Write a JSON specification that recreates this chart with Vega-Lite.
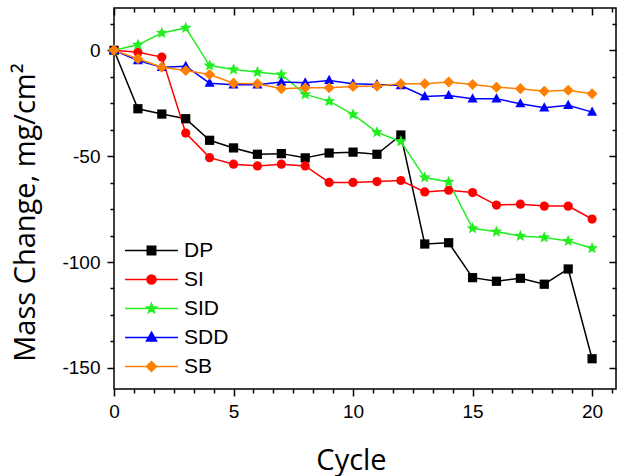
{
  "$schema": "https://vega.github.io/schema/vega-lite/v6.json",
  "autosize": "none",
  "width": 502,
  "height": 381,
  "padding": {"left": 114, "top": 8, "right": 5, "bottom": 87},
  "background": "white",
  "data": {
    "values": [
      {"cycle": 0, "series": "DP", "mass": 0}, {"cycle": 1, "series": "DP", "mass": -27.6}, {"cycle": 2, "series": "DP", "mass": -30.1},
      {"cycle": 3, "series": "DP", "mass": -32.3}, {"cycle": 4, "series": "DP", "mass": -42.5}, {"cycle": 5, "series": "DP", "mass": -46.1},
      {"cycle": 6, "series": "DP", "mass": -49.1}, {"cycle": 7, "series": "DP", "mass": -48.8}, {"cycle": 8, "series": "DP", "mass": -50.8},
      {"cycle": 9, "series": "DP", "mass": -48.5}, {"cycle": 10, "series": "DP", "mass": -48.1}, {"cycle": 11, "series": "DP", "mass": -49.1},
      {"cycle": 12, "series": "DP", "mass": -40.0}, {"cycle": 13, "series": "DP", "mass": -91.5}, {"cycle": 14, "series": "DP", "mass": -90.9},
      {"cycle": 15, "series": "DP", "mass": -107.4}, {"cycle": 16, "series": "DP", "mass": -109.1}, {"cycle": 17, "series": "DP", "mass": -107.7},
      {"cycle": 18, "series": "DP", "mass": -110.5}, {"cycle": 19, "series": "DP", "mass": -103.3}, {"cycle": 20, "series": "DP", "mass": -145.7},
      {"cycle": 0, "series": "SI", "mass": 0}, {"cycle": 1, "series": "SI", "mass": -0.9}, {"cycle": 2, "series": "SI", "mass": -3.2},
      {"cycle": 3, "series": "SI", "mass": -39.1}, {"cycle": 4, "series": "SI", "mass": -50.7}, {"cycle": 5, "series": "SI", "mass": -53.8},
      {"cycle": 6, "series": "SI", "mass": -54.6}, {"cycle": 7, "series": "SI", "mass": -53.8}, {"cycle": 8, "series": "SI", "mass": -54.6},
      {"cycle": 9, "series": "SI", "mass": -62.4}, {"cycle": 10, "series": "SI", "mass": -62.4}, {"cycle": 11, "series": "SI", "mass": -62.0},
      {"cycle": 12, "series": "SI", "mass": -61.5}, {"cycle": 13, "series": "SI", "mass": -66.9}, {"cycle": 14, "series": "SI", "mass": -66.1},
      {"cycle": 15, "series": "SI", "mass": -67.2}, {"cycle": 16, "series": "SI", "mass": -73.1}, {"cycle": 17, "series": "SI", "mass": -72.7},
      {"cycle": 18, "series": "SI", "mass": -73.6}, {"cycle": 19, "series": "SI", "mass": -73.6}, {"cycle": 20, "series": "SI", "mass": -79.7},
      {"cycle": 0, "series": "SID", "mass": 0}, {"cycle": 1, "series": "SID", "mass": 2.6}, {"cycle": 2, "series": "SID", "mass": 8.2},
      {"cycle": 3, "series": "SID", "mass": 10.6}, {"cycle": 4, "series": "SID", "mass": -7.2}, {"cycle": 5, "series": "SID", "mass": -9.0},
      {"cycle": 6, "series": "SID", "mass": -10.3}, {"cycle": 7, "series": "SID", "mass": -11.4}, {"cycle": 8, "series": "SID", "mass": -20.8},
      {"cycle": 9, "series": "SID", "mass": -24.0}, {"cycle": 10, "series": "SID", "mass": -30.3}, {"cycle": 11, "series": "SID", "mass": -38.7},
      {"cycle": 12, "series": "SID", "mass": -43.1}, {"cycle": 13, "series": "SID", "mass": -60.1}, {"cycle": 14, "series": "SID", "mass": -62.2},
      {"cycle": 15, "series": "SID", "mass": -84.1}, {"cycle": 16, "series": "SID", "mass": -85.7}, {"cycle": 17, "series": "SID", "mass": -87.7},
      {"cycle": 18, "series": "SID", "mass": -88.4}, {"cycle": 19, "series": "SID", "mass": -90.1}, {"cycle": 20, "series": "SID", "mass": -93.5},
      {"cycle": 0, "series": "SDD", "mass": 0}, {"cycle": 1, "series": "SDD", "mass": -4.8}, {"cycle": 2, "series": "SDD", "mass": -8.0},
      {"cycle": 3, "series": "SDD", "mass": -7.5}, {"cycle": 4, "series": "SDD", "mass": -15.5}, {"cycle": 5, "series": "SDD", "mass": -16.3},
      {"cycle": 6, "series": "SDD", "mass": -16.3}, {"cycle": 7, "series": "SDD", "mass": -15.0}, {"cycle": 8, "series": "SDD", "mass": -15.3},
      {"cycle": 9, "series": "SDD", "mass": -14.2}, {"cycle": 10, "series": "SDD", "mass": -15.8}, {"cycle": 11, "series": "SDD", "mass": -16.1},
      {"cycle": 12, "series": "SDD", "mass": -16.6}, {"cycle": 13, "series": "SDD", "mass": -21.8}, {"cycle": 14, "series": "SDD", "mass": -21.3},
      {"cycle": 15, "series": "SDD", "mass": -22.9}, {"cycle": 16, "series": "SDD", "mass": -22.9}, {"cycle": 17, "series": "SDD", "mass": -25.2},
      {"cycle": 18, "series": "SDD", "mass": -27.1}, {"cycle": 19, "series": "SDD", "mass": -26.0}, {"cycle": 20, "series": "SDD", "mass": -29.2},
      {"cycle": 0, "series": "SB", "mass": 0}, {"cycle": 1, "series": "SB", "mass": -4.0}, {"cycle": 2, "series": "SB", "mass": -8.0},
      {"cycle": 3, "series": "SB", "mass": -9.5}, {"cycle": 4, "series": "SB", "mass": -11.4}, {"cycle": 5, "series": "SB", "mass": -15.5},
      {"cycle": 6, "series": "SB", "mass": -15.8}, {"cycle": 7, "series": "SB", "mass": -18.1}, {"cycle": 8, "series": "SB", "mass": -17.7},
      {"cycle": 9, "series": "SB", "mass": -17.7}, {"cycle": 10, "series": "SB", "mass": -17.1}, {"cycle": 11, "series": "SB", "mass": -16.9},
      {"cycle": 12, "series": "SB", "mass": -15.8}, {"cycle": 13, "series": "SB", "mass": -15.8}, {"cycle": 14, "series": "SB", "mass": -15.0},
      {"cycle": 15, "series": "SB", "mass": -16.1}, {"cycle": 16, "series": "SB", "mass": -17.4}, {"cycle": 17, "series": "SB", "mass": -18.1},
      {"cycle": 18, "series": "SB", "mass": -19.3}, {"cycle": 19, "series": "SB", "mass": -18.9}, {"cycle": 20, "series": "SB", "mass": -20.5}
    ]
  },
  "layer": [
    {
      "mark": {"type": "line", "strokeWidth": 1.5},
      "encoding": {
        "x": {
          "field": "cycle", "type": "quantitative",
          "scale": {"domain": [0, 21], "nice": false, "zero": false},
          "axis": {
            "orient": "bottom",
            "title": "Cycle",
            "values": [0, 5, 10, 15, 20],
            "format": "d",
            "ticks": true, "tickSize": 7, "tickColor": "#000000", "tickWidth": 1.5, "tickOpacity": 1,
            "labelPadding": 6,
            "titleX": 237,
            "titleY": 80,
            "titleBaseline": "alphabetic"
          }
        },
        "y": {
          "field": "mass", "type": "quantitative",
          "scale": {"domain": [-160, 20], "nice": false, "zero": false},
          "axis": {
            "orient": "left",
            "title": "Mass Change, mg/cm²",
            "values": [-150, -100, -50, 0],
            "labelExpr": "datum.value < 0 ? '-' + abs(datum.value) : '' + datum.value",
            "ticks": true, "tickSize": 7, "tickColor": "#000000", "tickWidth": 1.5, "tickOpacity": 1,
            "labelPadding": 7,
            "titleX": -80,
            "titleY": 204,
            "titleAngle": 270,
            "titleBaseline": "alphabetic"
          }
        },
        "color": {
          "field": "series", "type": "nominal",
          "scale": {"domain": ["DP", "SI", "SID", "SDD", "SB"], "range": ["#000000", "#ff0000", "#22ee22", "#0000ff", "#ff8000"]},
          "legend": {
            "title": null,
            "orient": "none",
            "legendX": 26,
            "legendY": 231,
            "padding": 0,
            "symbolSize": 441,
            "symbolStrokeWidth": 1.5,
            "labelFont": "Liberation Sans",
            "labelFontSize": 21,
            "labelColor": "#000000",
            "labelOffset": 21,
            "rowPadding": 7,
            "encode": {
              "symbols": {
                "update": {
                  "shape": {"signal": "datum.value === 'DP' ? 'M-2.52,0H2.52M-0.4,-0.4H0.4V0.4H-0.4Z' : datum.value === 'SI' ? 'M-2.52,0H2.52M-0.43,0A0.43,0.43,0,1,1,0.43,0A0.43,0.43,0,1,1,-0.43,0Z' : datum.value === 'SID' ? 'M-2.52,0H2.52M0,-0.48L0.119,-0.164L0.457,-0.149L0.192,0.063L0.283,0.389L0,0.202L-0.283,0.389L-0.192,0.063L-0.457,-0.149L-0.119,-0.164Z' : datum.value === 'SDD' ? 'M-2.52,0H2.52M0,-0.5L0.48,0.33L-0.48,0.33Z' : 'M-2.52,0H2.52M0,-0.48L0.48,0L0,0.48L-0.48,0Z'"},
                  "fill": {"scale": "color", "field": "value"},
                  "stroke": {"scale": "color", "field": "value"},
                  "opacity": {"value": 1},
                  "fillOpacity": {"value": 1},
                  "strokeOpacity": {"value": 1}
                }
              }
            }
          }
        }
      }
    },
    {
      "mark": {"type": "point", "filled": true, "opacity": 1, "size": 85},
      "encoding": {
        "x": {
          "field": "cycle", "type": "quantitative",
          "scale": {"domain": [0, 21], "nice": false, "zero": false},
          "axis": {
            "orient": "bottom", "title": null, "labels": false,
            "values": [0.833333, 1.666667, 2.5, 3.333333, 4.166667, 5.833333, 6.666667, 7.5, 8.333333, 9.166667, 10.833333, 11.666667, 12.5, 13.333333, 14.166667, 15.833333, 16.666667, 17.5, 18.333333, 19.166667, 20.833333],
            "ticks": true, "tickSize": 4, "tickColor": "#000000", "tickWidth": 1.5, "tickOpacity": 1
          }
        },
        "y": {
          "field": "mass", "type": "quantitative",
          "scale": {"domain": [-160, 20], "nice": false, "zero": false},
          "axis": {
            "orient": "left", "title": null, "labels": false,
            "values": [-137.5, -125, -112.5, -87.5, -75, -62.5, -37.5, -25, -12.5, 12.5],
            "ticks": true, "tickSize": 4, "tickColor": "#000000", "tickWidth": 1.5, "tickOpacity": 1
          }
        },
        "color": {
          "field": "series", "type": "nominal",
          "scale": {"domain": ["DP", "SI", "SID", "SDD", "SB"], "range": ["#000000", "#ff0000", "#22ee22", "#0000ff", "#ff8000"]},
          "legend": null
        },
        "shape": {
          "field": "series", "type": "nominal",
          "scale": {"domain": ["DP", "SI", "SID", "SDD", "SB"], "range": ["square", "circle", "M0,-1.35L0.353,-0.485L1.284,-0.417L0.571,0.185L0.794,1.092L0,0.6L-0.794,1.092L-0.571,0.185L-1.284,-0.417L-0.353,-0.485Z", "M0,-1.2L1.1,0.8L-1.1,0.8Z", "M0,-1.2L1.2,0L0,1.2L-1.2,0Z"]},
          "legend": null
        }
      }
    },
    {
      "mark": {"type": "point", "opacity": 0},
      "encoding": {
        "x": {
          "field": "cycle", "type": "quantitative",
          "scale": {"domain": [0, 21], "nice": false, "zero": false},
          "axis": {"orient": "top", "title": null, "labels": false, "values": [0, 5, 10, 15, 20], "ticks": true, "tickSize": -7, "tickColor": "#000000", "tickWidth": 1.5, "tickOpacity": 1}
        },
        "y": {
          "field": "mass", "type": "quantitative",
          "scale": {"domain": [-160, 20], "nice": false, "zero": false},
          "axis": {"orient": "right", "title": null, "labels": false, "values": [-150, -100, -50, 0], "ticks": true, "tickSize": -7, "tickColor": "#000000", "tickWidth": 1.5, "tickOpacity": 1}
        }
      }
    },
    {
      "mark": {"type": "point", "opacity": 0},
      "encoding": {
        "x": {
          "field": "cycle", "type": "quantitative",
          "scale": {"domain": [0, 21], "nice": false, "zero": false},
          "axis": {
            "orient": "top", "title": null, "labels": false,
            "values": [0.833333, 1.666667, 2.5, 3.333333, 4.166667, 5.833333, 6.666667, 7.5, 8.333333, 9.166667, 10.833333, 11.666667, 12.5, 13.333333, 14.166667, 15.833333, 16.666667, 17.5, 18.333333, 19.166667, 20.833333],
            "ticks": true, "tickSize": -4, "tickColor": "#000000", "tickWidth": 1.5, "tickOpacity": 1
          }
        },
        "y": {
          "field": "mass", "type": "quantitative",
          "scale": {"domain": [-160, 20], "nice": false, "zero": false},
          "axis": {
            "orient": "right", "title": null, "labels": false,
            "values": [-137.5, -125, -112.5, -87.5, -75, -62.5, -37.5, -25, -12.5, 12.5],
            "ticks": true, "tickSize": -4, "tickColor": "#000000", "tickWidth": 1.5, "tickOpacity": 1
          }
        }
      }
    }
  ],
  "resolve": {
    "axis": {"x": "independent", "y": "independent"},
    "legend": {"color": "independent", "shape": "independent"}
  },
  "config": {
    "view": {"stroke": "#000000", "strokeWidth": 1.5},
    "axis": {
      "domain": false,
      "grid": false,
      "labelColor": "#000000",
      "labelFont": "Liberation Sans",
      "labelFontSize": 19,
      "labelFlush": false,
      "labelOverlap": false,
      "labelBound": false,
      "titleFont": "Open Sans",
      "titleFontSize": 29,
      "titleFontWeight": "normal",
      "titleColor": "#000000"
    }
  }
}
